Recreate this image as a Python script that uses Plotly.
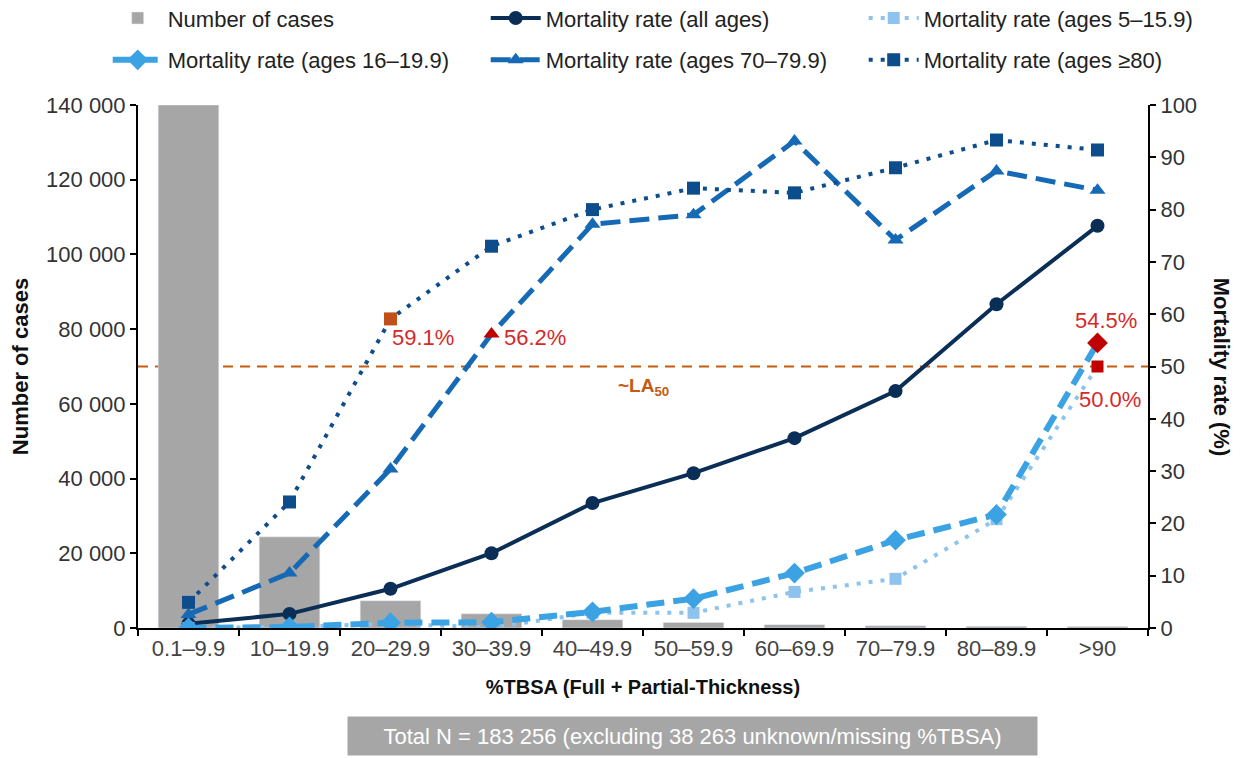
import plotly.graph_objects as go

categories = ["0.1–9.9", "10–19.9", "20–29.9", "30–39.9", "40–49.9",
              "50–59.9", "60–69.9", "70–79.9", "80–89.9", ">90"]
num_cases = [140000, 24400, 7300, 3800, 2200, 1500, 900, 600, 450, 400]
mort_all = [0.8, 2.7, 7.5, 14.3, 23.9, 29.6, 36.3, 45.3, 61.9, 76.9]
mort_5_15 = [0.0, 0.2, 0.8, 0.1, 2.9, 2.9, 6.9, 9.4, 20.8, 50.0]
mort_16_19 = [0.0, 0.2, 1.0, 1.1, 3.1, 5.6, 10.5, 16.8, 21.7, 54.5]
mort_70_79 = [2.6, 10.5, 30.4, 56.2, 77.2, 79.0, 93.1, 74.2, 87.4, 83.7]
mort_80 = [4.9, 24.1, 59.1, 73.0, 80.0, 84.1, 83.2, 88.0, 93.3, 91.4]
la50 = 50

FONT = "Arial, Liberation Sans, sans-serif"
RED = "#c00000"
ORANGE = "#c55a11"
FS = 22

def colors(base, n, special):
    c = [base] * n
    for i, col in special.items():
        c[i] = col
    return c

fig = go.Figure()
fig.add_trace(go.Bar(x=categories, y=num_cases, name="Number of cases",
                     marker=dict(color="#a6a6a6"), width=0.6, yaxis="y",
                     legend="legend"))
fig.add_trace(go.Scatter(x=categories, y=mort_all, name="Mortality rate (all ages)",
                         mode="lines+markers", yaxis="y2", legend="legend",
                         line=dict(color="#0b2e57", width=4),
                         marker=dict(symbol="circle", size=14, color="#0b2e57")))
fig.add_trace(go.Scatter(x=categories, y=mort_5_15, name="Mortality rate (ages 5–15.9)",
                         mode="lines+markers", yaxis="y2", legend="legend",
                         line=dict(color="#8ec3ee", width=4, dash="4px,8px"),
                         marker=dict(symbol="square", size=12,
                                     color=colors("#8ec3ee", 10, {9: RED}))))
fig.add_trace(go.Scatter(x=categories, y=mort_16_19, name="Mortality rate (ages 16–19.9)",
                         mode="lines+markers", yaxis="y2", legend="legend2",
                         line=dict(color="#3ba3e3", width=6, dash="18px,9px"),
                         marker=dict(symbol="diamond", size=16,
                                     color=colors("#3ba3e3", 10, {9: RED}))))
fig.add_trace(go.Scatter(x=categories, y=mort_70_79, name="Mortality rate (ages 70–79.9)",
                         mode="lines+markers", yaxis="y2", legend="legend2",
                         line=dict(color="#1669b5", width=5, dash="20px,9px"),
                         marker=dict(symbol="triangle-up", size=14,
                                     color=colors("#1669b5", 10, {3: RED}))))
fig.add_trace(go.Scatter(x=categories, y=mort_80, name="Mortality rate (ages ≥80)",
                         mode="lines+markers", yaxis="y2", legend="legend2",
                         line=dict(color="#0e4d8c", width=4, dash="4px,8px"),
                         marker=dict(symbol="square", size=13,
                                     color=colors("#0e4d8c", 10, {2: "#c0501a"}))))

fig.add_shape(type="line", xref="paper", x0=0, x1=1, yref="y2", y0=la50, y1=la50,
              line=dict(color=ORANGE, width=2, dash="10px,7px"), layer="below")

annots = []
def pct(v):
    return f"{v:.1f}%"
lab_font = dict(color="#d42a2a", size=FS, family=FONT)
annots.append(dict(x=categories[2], y=mort_80[2], xref="x", yref="y2", text=pct(mort_80[2]),
                   showarrow=False, xanchor="left", yanchor="middle", xshift=-1, yshift=-19,
                   font=lab_font))
annots.append(dict(x=categories[3], y=mort_70_79[3], xref="x", yref="y2", text=pct(mort_70_79[3]),
                   showarrow=False, xanchor="left", yanchor="middle", xshift=10, yshift=-3,
                   font=lab_font))
annots.append(dict(x=categories[9], y=mort_16_19[9], xref="x", yref="y2", text=pct(mort_16_19[9]),
                   showarrow=False, xanchor="center", yanchor="middle", xshift=8, yshift=22,
                   font=lab_font))
annots.append(dict(x=categories[9], y=mort_5_15[9], xref="x", yref="y2", text=pct(mort_5_15[9]),
                   showarrow=False, xanchor="center", yanchor="middle", xshift=12, yshift=-33,
                   font=lab_font))
annots.append(dict(x=0.5, y=la50, xref="paper", yref="y2", text="<b>~LA<sub>50</sub></b>",
                   showarrow=False, xanchor="center", yanchor="top", yshift=-6,
                   font=dict(color=ORANGE, size=19, family=FONT)))
annots.append(dict(x=1.073, y=0.5, xref="paper", yref="paper", text="<b>Mortality rate (%)</b>",
                   showarrow=False, textangle=90, xanchor="center", yanchor="middle",
                   font=dict(color="#111", size=FS, family=FONT)))
annots.append(dict(x=0.549, y=-0.2065, xref="paper", yref="paper",
                   text="Total N = 183 256 (excluding 38 263 unknown/missing %TBSA)",
                   showarrow=False, xanchor="center", yanchor="middle",
                   bgcolor="#a6a6a6", width=687, height=36,
                   font=dict(color="white", size=FS, family=FONT)))

axis_common = dict(showline=True, linecolor="black", linewidth=2, ticks="outside",
                   ticklen=6, tickwidth=2, tickcolor="black", showgrid=False, zeroline=False)

leg_common = dict(orientation="h", x=-0.03, xanchor="left", yanchor="middle",
                  entrywidth=313, entrywidthmode="pixels", itemwidth=50,
                  font=dict(size=FS, color="#222"), bgcolor="rgba(0,0,0,0)")

fig.update_layout(
    width=1248, height=758,
    margin=dict(l=130, r=108, t=97, b=138, autoexpand=False),
    plot_bgcolor="white", paper_bgcolor="white",
    font=dict(family=FONT, size=FS, color="#333"),
    separators=". ",
    xaxis=dict(type="category", tickson="boundaries", range=[-0.5, 9.5],
               title=dict(text="<b>%TBSA (Full + Partial-Thickness)</b>",
                          font=dict(size=20, color="#111"), standoff=20),
               tickfont=dict(size=FS, color="#444"), **axis_common),
    yaxis=dict(range=[0, 140000], dtick=20000, tickformat=",d",
               title=dict(text="<b>Number of cases</b>", font=dict(size=FS, color="#111"),
                          standoff=12),
               tickfont=dict(size=FS, color="#333"), **axis_common),
    yaxis2=dict(range=[0, 100], dtick=10, overlaying="y", side="right",
                tickfont=dict(size=FS, color="#333"), **axis_common),
    legend=dict(y=1.166, **leg_common),
    legend2=dict(y=1.086, **leg_common),
    annotations=annots,
)

fig.write_html("out.html")
